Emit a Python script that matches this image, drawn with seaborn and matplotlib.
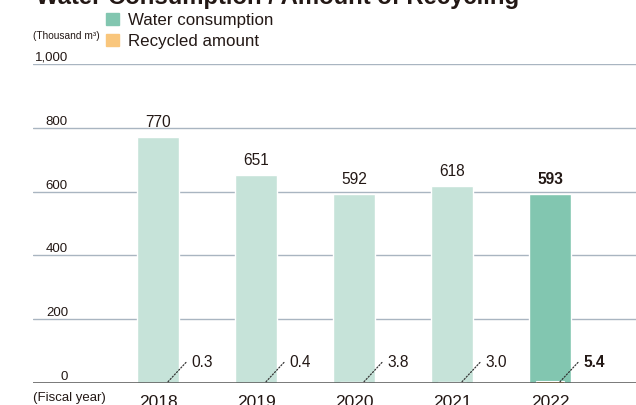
import matplotlib
matplotlib.use("Agg")
import matplotlib.pyplot as plt
from matplotlib.patches import Patch
import seaborn as sns
import pandas as pd

years = ["2018", "2019", "2020", "2021", "2022"]
water = [770, 651, 592, 618, 593]
recycled = [0.3, 0.4, 3.8, 3.0, 5.4]
recycled_labels = ["0.3", "0.4", "3.8", "3.0", "5.4"]
yticks = [0, 200, 400, 600, 800, 1000]
ytick_labels = ["0", "200", "400", "600", "800", "1,000"]

water_colors = ["#c6e3d9", "#c6e3d9", "#c6e3d9", "#c6e3d9", "#82c6b0"]
recycled_colors = ["#fbe6c4", "#fbe6c4", "#fbe6c4", "#fbe6c4", "#f2a93b"]
text_color = "#231815"

sns.set_theme(style="white")
plt.rcParams["font.family"] = ["Liberation Sans", "DejaVu Sans"]

df = pd.DataFrame({"year": years, "water": water, "recycled": recycled})

W, H = 636, 405
fig = plt.figure(figsize=(W / 100, H / 100), dpi=100)
ax = fig.add_axes([33 / W, 22 / H, (W - 33) / W, (383 - 64) / H])

sns.barplot(data=df, x="year", y="water", hue="year", palette=water_colors,
            width=0.43, legend=False, ax=ax, saturation=1, zorder=2)
sns.barplot(data=df, x="year", y="recycled", hue="year", palette=recycled_colors,
            width=0.29, legend=False, ax=ax, saturation=1, zorder=3)
# white outline on the highlighted recycled bar
last = ax.patches[-1]
last.set_edgecolor("white")
last.set_linewidth(0.8)

ax.set_xlim(-125 / 98, 478 / 98)
ax.set_ylim(0, 1000)
ax.set_yticks(yticks[1:])
ax.set_yticklabels([])
ax.tick_params(axis="y", length=0)
ax.yaxis.grid(True, color="#a9b5c1", linewidth=1)
ax.set_axisbelow(True)
ax.axhline(0, color="#555555", linewidth=1.1, zorder=4)
for s in ax.spines.values():
    s.set_visible(False)
ax.set_xlabel("")
ax.set_ylabel("")
ax.tick_params(axis="x", length=0, pad=8.5, labelsize=12.5, labelcolor=text_color)

# y labels sit above the gridlines
ytrans = ax.get_yaxis_transform()
for v, lab in zip(yticks, ytick_labels):
    ax.text(35 / (W - 33), v, lab, transform=ytrans, ha="right", va="bottom",
            fontsize=9.5, color=text_color)

# value labels on water bars
for i, v in enumerate(water):
    ax.annotate(str(v), xy=(i, v), xytext=(0, 5), textcoords="offset points",
                ha="center", va="bottom", fontsize=11.2, color=text_color,
                fontweight="bold" if i == len(water) - 1 else "normal")

# recycled labels with dotted leader lines
for i, lab in enumerate(recycled_labels):
    ax.annotate(lab, xy=(i + 0.09, 0), xytext=(17.5, 15), textcoords="offset points",
                ha="left", va="center", fontsize=11.2, color=text_color,
                fontweight="bold" if i == len(recycled_labels) - 1 else "normal",
                arrowprops=dict(arrowstyle="-", linestyle=(0, (1, 1.5)), color="#333333",
                                lw=0.9, shrinkA=2, shrinkB=0, relpos=(0, 0.85)),
                zorder=5)

fig.text(36 / W, 1 - 4 / H, "Water Consumption / Amount of Recycling",
         fontsize=17.2, fontweight="bold", color=text_color, ha="left", va="baseline")
fig.text(33 / W, 1 - 31 / H, "(Thousand m³)", fontsize=7.3, color=text_color,
         ha="left", va="top")
fig.text(33 / W, 1 - 392 / H, "(Fiscal year)", fontsize=9.5, color=text_color,
         ha="left", va="top")

handles = [Patch(color="#82c6b0"), Patch(color="#f9c67c")]
fig.legend(handles, ["Water consumption", "Recycled amount"],
           loc="upper left", bbox_to_anchor=(106 / W, 1 - 13 / H), frameon=False,
           fontsize=12.2, handlelength=0.75, handleheight=0.75, handletextpad=0.55,
           labelspacing=0.35, borderpad=0, borderaxespad=0, labelcolor=text_color)

fig.savefig("out.png", dpi=100)
